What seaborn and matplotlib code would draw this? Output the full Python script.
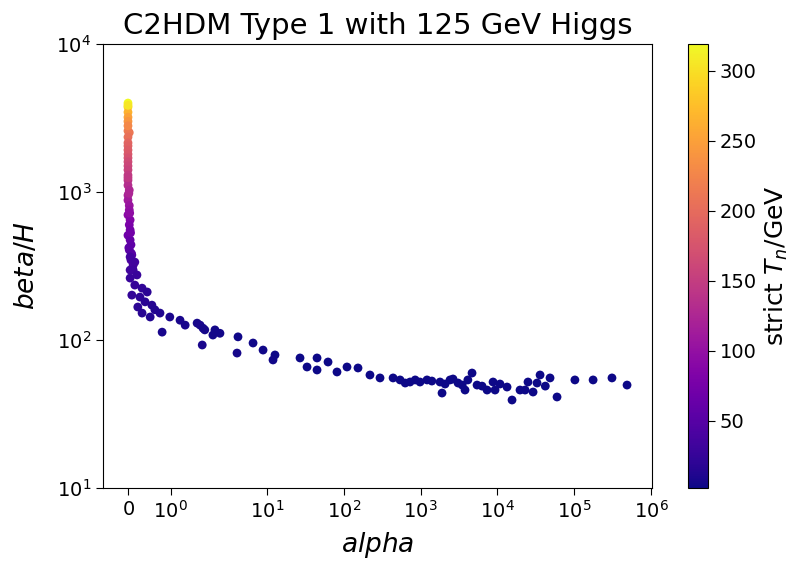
import numpy as np
import pandas as pd
import matplotlib
matplotlib.use("Agg")
import matplotlib.pyplot as plt
import seaborn as sns
from matplotlib.ticker import NullLocator, FixedLocator

# ---- data ----
# vertical column near alpha ~ 0
alpha_col = [0.0, 0.0, 0.0, 0.0, 0.0, 0.0, 0.03, 0.0, 0.0, 0.0,
             0.0, 0.0, 0.0, 0.0, 0.0, 0.0, 0.0, 0.0, 0.0, 0.03,
             0.0, 0.0, 0.03, 0.03, 0.0, 0.05, 0.03, 0.05, 0.0, 0.05,
             0.07, 0.03, 0.09, 0.07, 0.12, 0.05,
             0.0, 0.0, 0.0, 0.02, 0.04, 0.06, 0.02, 0.08]
beta_col = [3990, 3750, 3460, 3200, 3000, 2590, 2520, 2350, 2150, 2050,
            1920, 1800, 1700, 1600, 1500, 1410, 1300, 1200, 1110, 1030,
            950, 880, 810, 756, 700, 647, 600, 554, 510, 474,
            440, 406, 375, 347, 320, 297,
            3850, 2800, 1250, 980, 720, 530, 420, 385]
tn_col = [318, 290, 265, 250, 240, 215, 212, 205, 195, 190,
          185, 180, 172, 165, 160, 155, 148, 140, 133, 126,
          120, 113, 106, 100, 93, 87, 80, 74, 68, 62,
          57, 52, 47, 42, 38, 34,
          305, 228, 145, 124, 97, 72, 55, 50]

# knee of the curve
alpha_knee = [0.05, 0.16, 0.12, 0.05, 0.21, 0.16, 0.33, 0.09, 0.28, 0.45,
              0.40, 0.23, 0.56, 0.63, 0.33, 0.52, 0.75, 0.98, 1.22, 1.34,
              1.62, 1.80, 0.80, 2.10]
beta_knee = [364, 336, 297, 262, 275, 235, 224, 201, 195, 211,
             181, 167, 172, 160, 152, 143, 152, 143, 136, 126,
             130, 117, 113, 117]
tn_knee = [36, 33, 31, 28, 27, 25, 22, 24, 20, 19,
           17, 19, 15, 13, 16, 12, 11, 9, 8, 7,
           6, 6, 8, 5]

# long tail
alpha_tail = [1.69, 1.76, 1.74, 1.99, 2.44, 4.19, 4.07, 6.58, 8.88, 12.7,
              11.97, 26.9, 33.2, 44.8, 44.8, 62.3, 81.5, 110, 153, 219,
              296, 438, 540, 630, 728, 850, 982, 1211, 1400, 1790,
              1900, 2080, 2416, 2640, 3070, 3480, 3785, 4120, 4670, 5430,
              6300, 7330, 8770, 9310, 10800, 13340, 15490, 19680, 22900, 25000,
              29100, 32800, 35900, 42000, 48400, 59700, 102000, 176000, 310000, 487000]
beta_tail = [126, 120, 92.5, 108, 111, 105, 81.6, 95.4, 85.5, 79.2,
             73.3, 75.6, 65.7, 75.6, 62.7, 71.0, 60.8, 65.7, 64.7, 58.0,
             55.4, 55.4, 53.7, 51.2, 52.0, 53.7, 52.0, 53.7, 52.8, 52.0,
             43.8, 50.4, 53.7, 54.5, 51.2, 49.6, 45.9, 53.7, 59.8, 49.6,
             48.8, 45.9, 52.0, 45.9, 50.4, 48.1, 39.3, 45.9, 45.9, 52.0,
             44.5, 51.2, 58.0, 48.8, 55.4, 41.2, 53.7, 53.7, 55.4, 49.6]
tn_tail = [7, 6, 8, 5, 5, 4, 6, 4, 4, 3,
           4, 3, 3, 3, 3, 3, 3, 3, 3, 3,
           3, 3, 3, 3, 3, 3, 3, 3, 3, 3,
           3, 3, 3, 3, 3, 3, 3, 3, 3, 3,
           3, 3, 3, 3, 3, 3, 3, 3, 3, 3,
           3, 3, 3, 3, 3, 3, 3, 3, 3, 3]

tn_min, tn_max = 2, 319
cbar_ticks = [50, 100, 150, 200, 250, 300]
x_ticks = [0, 1, 10, 100, 1000, 10000, 100000, 1000000]

df = pd.DataFrame({
    "alpha": alpha_col + alpha_knee + alpha_tail,
    "beta": beta_col + beta_knee + beta_tail,
    "Tn": tn_col + tn_knee + tn_tail,
})

fig = plt.figure(figsize=(7.94, 5.70), dpi=100)
ax = fig.add_axes([0.1297, 0.1439, 0.6915, 0.7789])
cax = fig.add_axes([0.8665, 0.1439, 0.0252, 0.7789])

norm = matplotlib.colors.Normalize(vmin=tn_min, vmax=tn_max)
sns.scatterplot(data=df, x="alpha", y="beta", hue="Tn", palette="plasma",
                hue_norm=norm, s=40, linewidth=0, legend=False, ax=ax)

ax.set_xscale("symlog", linthresh=2, linscale=1)
ax.set_yscale("log")
ax.set_xlim(-0.586, 1.03e6)
ax.set_ylim(10, 1e4)
ax.xaxis.set_major_locator(FixedLocator(x_ticks))
ax.xaxis.set_minor_locator(NullLocator())
ax.yaxis.set_minor_locator(NullLocator())
ax.tick_params(labelsize=14, length=5)

ax.set_title("C2HDM Type 1 with 125 GeV Higgs", fontsize=21, pad=7)
ax.set_xlabel("$alpha$", fontsize=19, labelpad=6)
ax.set_ylabel("$beta/H$", fontsize=19, labelpad=12)

sm = matplotlib.cm.ScalarMappable(norm=norm, cmap="plasma")
cb = fig.colorbar(sm, cax=cax, ticks=cbar_ticks)
cb.ax.tick_params(labelsize=14, length=5)
cb.set_label("strict $T_n$/GeV", fontsize=18, labelpad=4)

fig.savefig("out.png", dpi=100)
